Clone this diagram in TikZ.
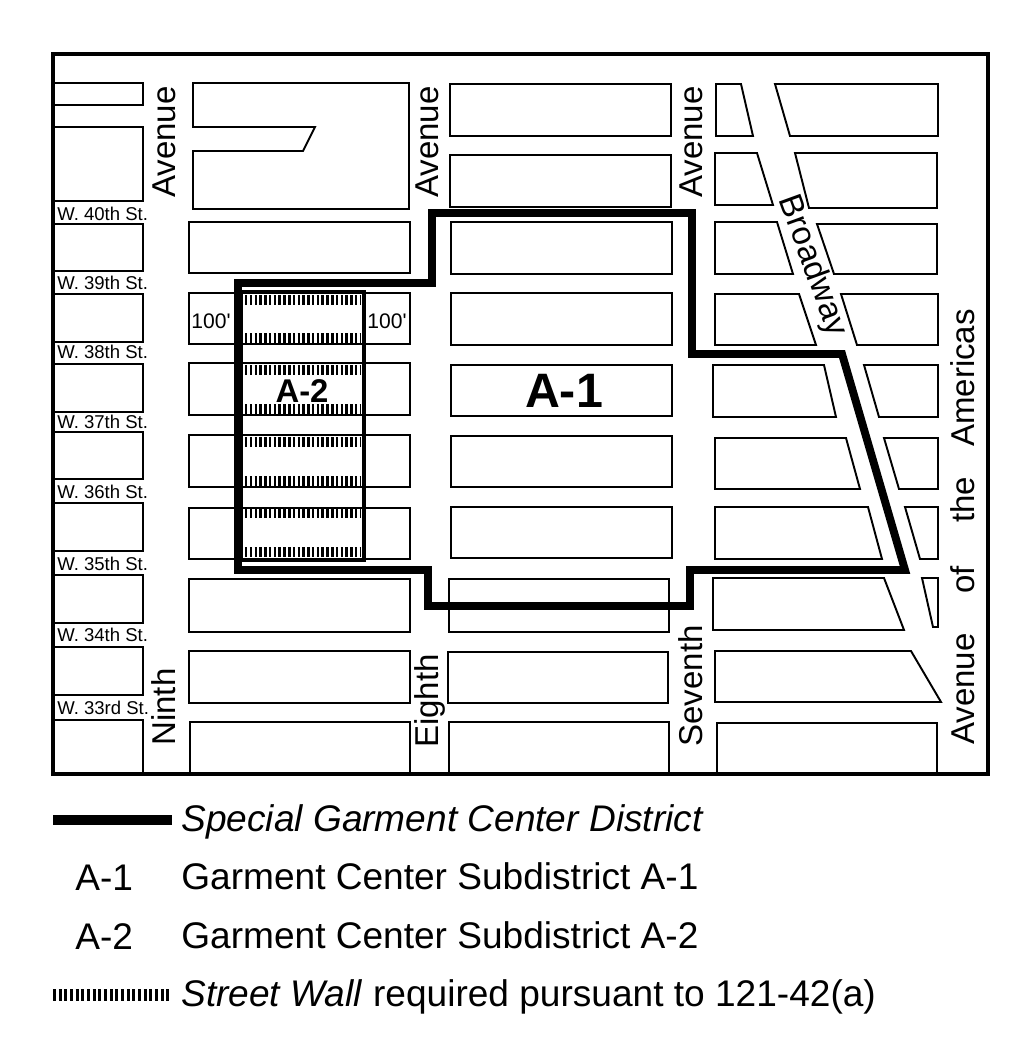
\documentclass[tikz,border=0pt]{standalone}
\usepackage{fontspec}
\setmainfont{Liberation Sans}
\tikzset{blockline/.style={draw,line width=1.1pt},
 frameline/.style={draw,line width=2.3pt},
 districtline/.style={draw,line width=4.5pt,miter limit=10},
 subline/.style={draw,line width=2.4pt},
 wallhatch/.style={draw,line width=5.7pt,dash pattern=on 1.42pt off 1.3pt},
 streetname/.style={font=\fontsize{18.8}{20}\selectfont,inner sep=0pt,anchor=base,rotate=90},
 crossname/.style={font=\fontsize{10.55}{12}\selectfont,inner sep=0pt,anchor=base west},
 depthname/.style={font=\fontsize{12}{14}\selectfont,inner sep=0pt},
 legendname/.style={font=\fontsize{21.1}{24}\selectfont,inner sep=0pt,anchor=base west},
 }
\begin{document}
\begin{tikzpicture}[x=0.02cm,y=-0.02cm]
        \useasboundingbox (0,0) rectangle (1031,1045);
        \draw[blockline] (54,83) rectangle (143,105);
        \draw[blockline] (54,127) rectangle (143,201);
        \draw[blockline] (54,224) rectangle (143,271);
        \draw[blockline] (54,294) rectangle (143,342);
        \draw[blockline] (54,364) rectangle (143,412);
        \draw[blockline] (54,432) rectangle (143,479);
        \draw[blockline] (54,503) rectangle (143,551);
        \draw[blockline] (54,575) rectangle (143,623);
        \draw[blockline] (54,647) rectangle (143,695);
        \draw[blockline] (54,720) rectangle (143,773);
        \draw[blockline] (193,83) -- (409,83) -- (409,209) -- (193,209) -- (193,151) -- (303,151) -- (315,127) -- (193,127) -- cycle;
        \draw[blockline] (189,222) rectangle (410,273);
        \draw[blockline] (189,293) rectangle (410,344);
        \draw[blockline] (189,363) rectangle (410,415);
        \draw[blockline] (189,435) rectangle (410,487);
        \draw[blockline] (189,508) rectangle (410,559);
        \draw[blockline] (189,579) rectangle (410,632);
        \draw[blockline] (189,651) rectangle (410,703);
        \draw[blockline] (190,722) rectangle (410,773);
        \draw[blockline] (450,84) rectangle (671,136);
        \draw[blockline] (450,155) rectangle (671,207);
        \draw[blockline] (451,222) rectangle (672,274);
        \draw[blockline] (451,293) rectangle (672,345);
        \draw[blockline] (451,365) rectangle (672,416);
        \draw[blockline] (451,436) rectangle (672,487);
        \draw[blockline] (451,507) rectangle (672,558);
        \draw[blockline] (449,579) rectangle (669,632);
        \draw[blockline] (448,652) rectangle (668,703);
        \draw[blockline] (449,722) rectangle (669,773);
        \draw[blockline] (716,84) -- (741,84) -- (753,136) -- (716,136) -- cycle;
        \draw[blockline] (715,153) -- (757,153) -- (773,205) -- (715,205) -- cycle;
        \draw[blockline] (715,222) -- (777,222) -- (793,274) -- (715,274) -- cycle;
        \draw[blockline] (715,294) -- (799,294) -- (816,345) -- (715,345) -- cycle;
        \draw[blockline] (713,365) -- (824,365) -- (836,417) -- (713,417) -- cycle;
        \draw[blockline] (715,438) -- (846,438) -- (860,489) -- (715,489) -- cycle;
        \draw[blockline] (715,507) -- (868,507) -- (882,559) -- (715,559) -- cycle;
        \draw[blockline] (713,578) -- (884,578) -- (904,630) -- (713,630) -- cycle;
        \draw[blockline] (715,651) -- (911,651) -- (941,702) -- (715,702) -- cycle;
        \draw[blockline] (717,723) rectangle (937,773);
        \draw[blockline] (775,84) -- (938,84) -- (938,136) -- (790,136) -- cycle;
        \draw[blockline] (795,153) -- (937,153) -- (937,208) -- (809,208) -- cycle;
        \draw[blockline] (817,224) -- (937,224) -- (937,274) -- (834,274) -- cycle;
        \draw[blockline] (841,294) -- (938,294) -- (938,345) -- (857,345) -- cycle;
        \draw[blockline] (864,365) -- (938,365) -- (938,417) -- (879,417) -- cycle;
        \draw[blockline] (884,438) -- (938,438) -- (938,489) -- (899,489) -- cycle;
        \draw[blockline] (905,507) -- (938,507) -- (938,559) -- (920,559) -- cycle;
        \draw[blockline] (922,578) -- (938,578) -- (938,627) -- (933,627) -- cycle;
        \draw[wallhatch] (245,300) -- (360,300);
        \draw[wallhatch] (245,338) -- (360,338);
        \draw[wallhatch] (245,370) -- (360,370);
        \draw[wallhatch] (245,409) -- (360,409);
        \draw[wallhatch] (245,442) -- (360,442);
        \draw[wallhatch] (245,481) -- (360,481);
        \draw[wallhatch] (245,513) -- (360,513);
        \draw[wallhatch] (245,552) -- (360,552);
        \draw[subline] (241,292) rectangle (364,560);
        \draw[districtline] (238,283) -- (432,283) -- (432,213) -- (692,213) -- (692,354) -- (842,354) -- (905,570) -- (690,570) -- (690,606) -- (428,606) -- (428,570) -- (238,570) -- cycle;
        \draw[frameline] (53,54) rectangle (988,774);
        \node[streetname] (ninthtop) at (175,142) {Avenue};
        \node[streetname] (ninthlow) at (175,707) {Ninth};
        \node[streetname] (eighthtop) at (438,142) {Avenue};
        \node[streetname] (eighthlow) at (438,701) {Eighth};
        \node[streetname] (seventhtop) at (702,142) {Avenue};
        \node[streetname] (seventhlow) at (702,686) {Seventh};
        \node[streetname] (amavenue) at (974,689) {Avenue};
        \node[streetname] (amof) at (974,580) {of};
        \node[streetname] (amthe) at (974,500) {the};
        \node[streetname] (amamericas) at (974,378) {Americas};
        \node[inner sep=0pt,font=\fontsize{18.8}{20}\selectfont,rotate=-70] (broadway) at (812,266) {Broadway};
        \node[crossname] (st40) at (57,220) {W. 40th St.};
        \node[crossname] (st39) at (57,289) {W. 39th St.};
        \node[crossname] (st38) at (57,358) {W. 38th St.};
        \node[crossname] (st37) at (57,428) {W. 37th St.};
        \node[crossname] (st36) at (57,498) {W. 36th St.};
        \node[crossname] (st35) at (57,570) {W. 35th St.};
        \node[crossname] (st34) at (57,641) {W. 34th St.};
        \node[crossname] (st33) at (57,714) {W. 33rd St.};
        \node[depthname] (depthleft) at (211,321) {100\textquotesingle};
        \node[depthname] (depthright) at (387,321) {100\textquotesingle};
        \node[inner sep=0pt,font=\fontsize{27.5}{30}\selectfont\bfseries] (subone) at (564,391) {A-1};
        \node[inner sep=0pt,font=\fontsize{18.7}{20}\selectfont\bfseries] (subtwo) at (302,391) {A-2};
        \draw[line width=5.7pt] (53,820) -- (172,820);
        \node[legendname] (legdistrict) at (181,831) {\itshape Special Garment Center District};
        \node[legendname] (legonekey) at (75,890) {A-1};
        \node[legendname] (legone) at (181,889) {Garment Center Subdistrict A-1};
        \node[legendname] (legtwokey) at (75,949) {A-2};
        \node[legendname] (legtwo) at (181,948) {Garment Center Subdistrict A-2};
        \draw[line width=6.8pt,dash pattern=on 1.7pt off 1.53pt] (53,995) -- (172,995);
        \node[legendname] (legwall) at (181,1006) {\textit{Street Wall} required pursuant to 121-42(a)};
    \end{tikzpicture}
\end{document}
